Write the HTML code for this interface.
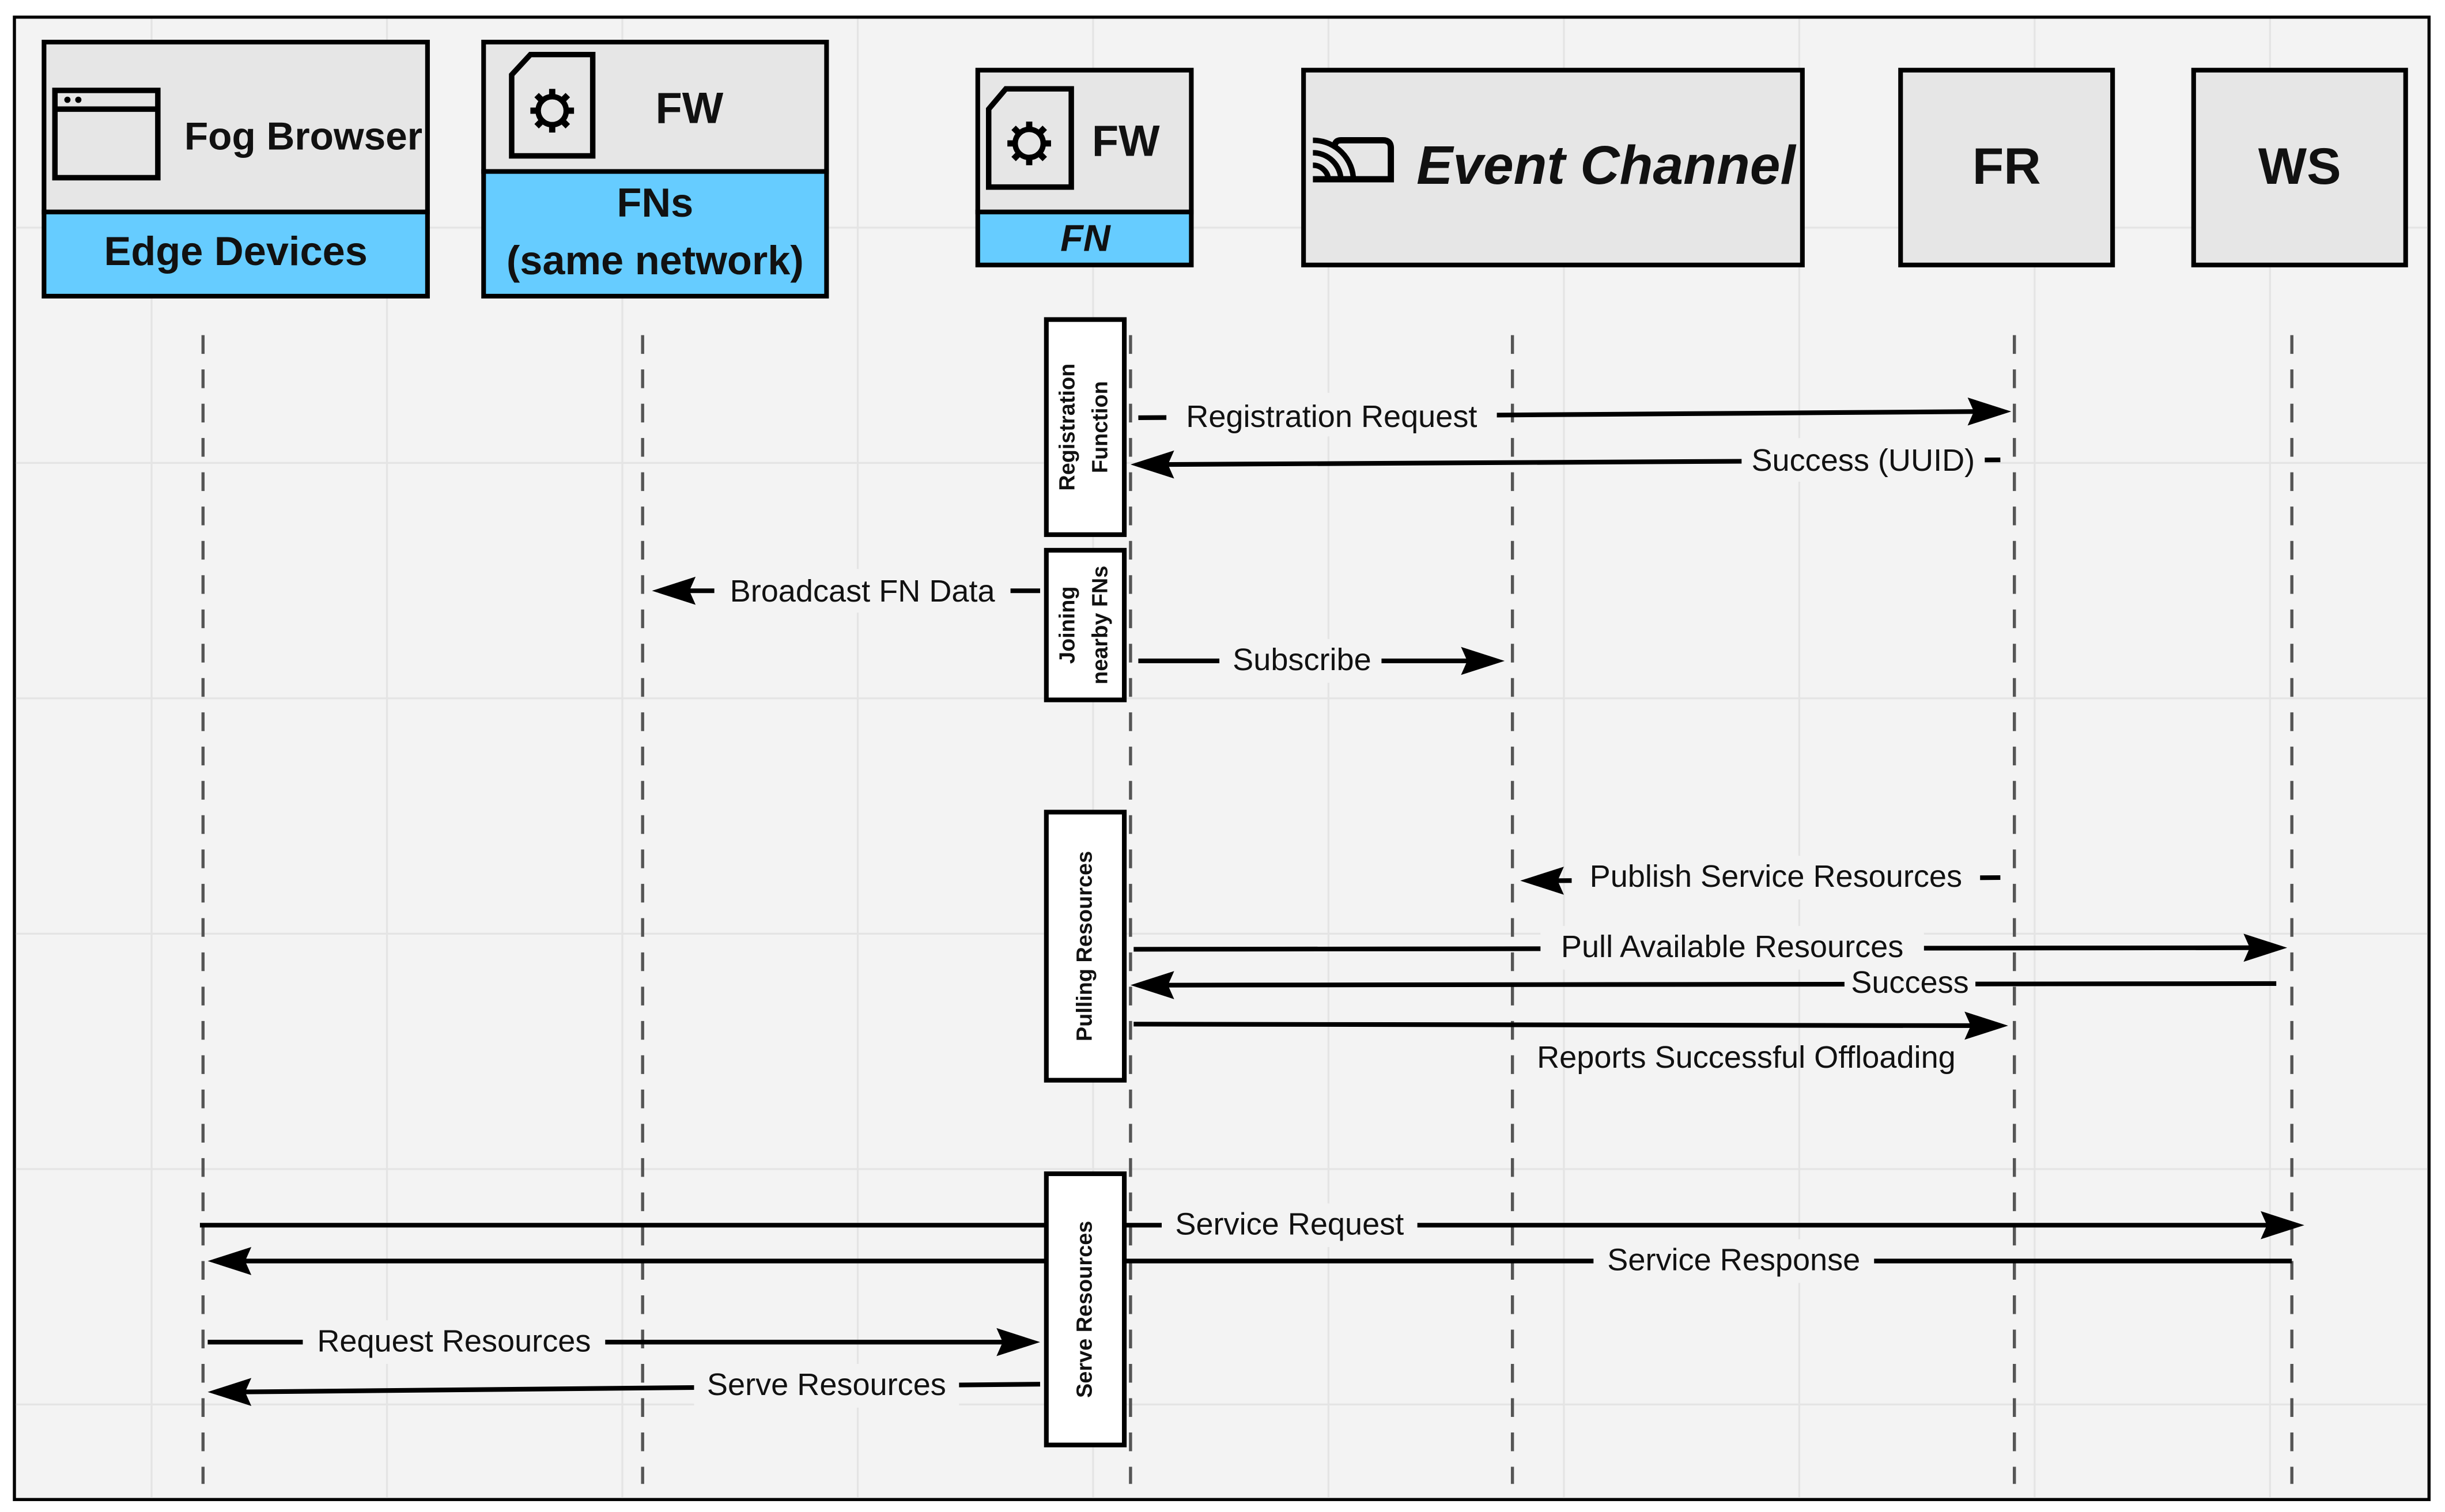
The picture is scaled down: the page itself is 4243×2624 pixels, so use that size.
<!DOCTYPE html>
<html><head><meta charset="utf-8"><style>
html,body{margin:0;padding:0;background:#fff}
svg{display:block}
text{font-family:"Liberation Sans",sans-serif}
</style></head><body>
<svg width="4243" height="2624" viewBox="0 0 1568 970" xmlns="http://www.w3.org/2000/svg">
<rect x="0" y="0" width="1568" height="970" fill="#fff"/>
<rect x="9" y="11" width="1549" height="951" fill="#f3f3f3" stroke="#000" stroke-width="2"/>
<g stroke="#e4e4e4" stroke-width="1.2">
<line x1="97" y1="12" x2="97" y2="961"/><line x1="248" y1="12" x2="248" y2="961"/><line x1="399" y1="12" x2="399" y2="961"/><line x1="550" y1="12" x2="550" y2="961"/><line x1="701" y1="12" x2="701" y2="961"/><line x1="852" y1="12" x2="852" y2="961"/><line x1="1003" y1="12" x2="1003" y2="961"/><line x1="1154" y1="12" x2="1154" y2="961"/><line x1="1305" y1="12" x2="1305" y2="961"/><line x1="1456" y1="12" x2="1456" y2="961"/>
<line x1="10" y1="146" x2="1557" y2="146"/><line x1="10" y1="297" x2="1557" y2="297"/><line x1="10" y1="448" x2="1557" y2="448"/><line x1="10" y1="599" x2="1557" y2="599"/><line x1="10" y1="750" x2="1557" y2="750"/><line x1="10" y1="901" x2="1557" y2="901"/>
</g>
<g stroke="#555" stroke-width="2" stroke-dasharray="12,10">
<line x1="130" y1="215" x2="130" y2="952"/><line x1="412" y1="215" x2="412" y2="952"/><line x1="725" y1="215" x2="725" y2="952"/><line x1="970" y1="215" x2="970" y2="952"/><line x1="1292" y1="215" x2="1292" y2="952"/><line x1="1470" y1="215" x2="1470" y2="952"/>
</g>
<g stroke="#000" stroke-width="3">
<rect x="28" y="27" width="246" height="109" fill="#e6e6e6"/><rect x="28" y="136" width="246" height="54" fill="#66ccff"/>
<rect x="310" y="27" width="220" height="83" fill="#e6e6e6"/><rect x="310" y="110" width="220" height="80" fill="#66ccff"/>
<rect x="627" y="45" width="137" height="91" fill="#e6e6e6"/><rect x="627" y="136" width="137" height="34" fill="#66ccff"/>
<rect x="836" y="45" width="320" height="125" fill="#e6e6e6"/>
<rect x="1219" y="45" width="136" height="125" fill="#e6e6e6"/>
<rect x="1407" y="45" width="136" height="125" fill="#e6e6e6"/>
</g>
<g fill="none" stroke="#000" stroke-width="3.5">
<rect x="35" y="58" width="66" height="56"/><line x1="35" y1="70" x2="101" y2="70"/>
<path d="M340 35 H380 V100 H328 V48 Z"/>
<path d="M645 57 H687 V120 H634 V70 Z"/>
<circle cx="354" cy="71" r="9"/><circle cx="660" cy="92" r="9"/>
<path d="M842 115 H892 V95 Q892 90 887 90 H860 Q856 90 856 94" stroke-width="4"/>
<path d="M842 106 A10 10 0 0 1 852 116 M842 98 A18 18 0 0 1 860 116 M842 90 A26 26 0 0 1 868 116" stroke-width="3.5"/>
</g>
<g fill="#000"><circle cx="43" cy="64" r="2"/><circle cx="50" cy="64" r="2"/></g>
<g stroke="#000" stroke-width="4">
<path d="M354 57 V61 M354 81 V85 M340 71 H344 M364 71 H368 M344 61 L347 64 M361 78 L364 81 M364 61 L361 64 M347 78 L344 81"/>
<path d="M660 78 V82 M660 102 V106 M646 92 H650 M670 92 H674 M650 82 L653 85 M667 99 L670 102 M670 82 L667 85 M653 99 L650 102"/>
</g>
<g font-weight="bold" fill="#111">
<text x="118" y="96" font-size="25">Fog Browser</text>
<text x="151" y="170" font-size="26" text-anchor="middle">Edge Devices</text>
<text x="442" y="79" font-size="28" text-anchor="middle">FW</text>
<text x="420" y="139" font-size="26" text-anchor="middle">FNs</text>
<text x="420" y="176" font-size="26" text-anchor="middle">(same network)</text>
<text x="722" y="100" font-size="28" text-anchor="middle">FW</text>
<text x="696" y="161" font-size="24" text-anchor="middle" font-style="italic">FN</text>
<text x="1030" y="118" font-size="35" text-anchor="middle" font-style="italic">Event Channel</text>
<text x="1287" y="118" font-size="33" text-anchor="middle">FR</text>
<text x="1475" y="118" font-size="33" text-anchor="middle">WS</text>
</g>
<g stroke="#000" stroke-width="3" fill="none">
<line x1="730" y1="268" x2="1270" y2="264"/>
<line x1="1283" y1="295" x2="745" y2="298"/>
<line x1="667" y1="379" x2="438" y2="379"/>
<line x1="730" y1="424" x2="945" y2="424"/>
<line x1="1283" y1="563" x2="995" y2="565"/>
<line x1="727" y1="609" x2="1447" y2="608"/>
<line x1="1460" y1="631" x2="745" y2="632"/>
<line x1="727" y1="657" x2="1268" y2="658"/>
<line x1="128" y1="786" x2="1458" y2="786"/>
<line x1="1470" y1="809" x2="153" y2="809"/>
<line x1="133" y1="861" x2="647" y2="861"/>
<line x1="667" y1="888" x2="153" y2="893"/>
</g>
<g fill="#000">
<path d="M1290 264 L1262 255 L1266 264 L1262 273 Z"/>
<path d="M725 298 L753 289 L749 298 L753 307 Z"/>
<path d="M418 379 L446 370 L442 379 L446 388 Z"/>
<path d="M965 424 L937 415 L941 424 L937 433 Z"/>
<path d="M975 565 L1003 556 L999 565 L1003 574 Z"/>
<path d="M1467 608 L1439 599 L1443 608 L1439 617 Z"/>
<path d="M725 632 L753 623 L749 632 L753 641 Z"/>
<path d="M1288 658 L1260 649 L1264 658 L1260 667 Z"/>
<path d="M1478 786 L1450 777 L1454 786 L1450 795 Z"/>
<path d="M133 809 L161 800 L157 809 L161 818 Z"/>
<path d="M667 861 L639 852 L643 861 L639 870 Z"/>
<path d="M133 893 L161 884 L157 893 L161 902 Z"/>
</g>
<g fill="#fff" stroke="#000" stroke-width="3">
<rect x="671" y="205" width="50" height="138"/><rect x="671" y="353" width="50" height="96"/><rect x="671" y="521" width="50" height="172"/><rect x="671" y="753" width="50" height="174"/>
</g>
<g font-weight="bold" font-size="14" fill="#111" text-anchor="middle">
<text transform="translate(689,274) rotate(-90)">Registration</text>
<text transform="translate(710,274) rotate(-90)">Function</text>
<text transform="translate(689,401) rotate(-90)">Joining</text>
<text transform="translate(710,401) rotate(-90)">nearby FNs</text>
<text transform="translate(700,607) rotate(-90)">Pulling Resources</text>
<text transform="translate(700,840) rotate(-90)">Serve Resources</text>
</g>
<g fill="#f3f3f3">
<rect x="748" y="252" width="212" height="28"/>
<rect x="1117" y="281" width="156" height="28"/>
<rect x="458" y="365" width="190" height="28"/>
<rect x="782" y="410" width="104" height="28"/>
<rect x="1008" y="549" width="262" height="28"/>
<rect x="988" y="594" width="246" height="28"/>
<rect x="1183" y="617" width="84" height="28"/>
<rect x="745" y="772" width="164" height="28"/>
<rect x="1022" y="795" width="180" height="28"/>
<rect x="194" y="847" width="194" height="28"/>
<rect x="445" y="875" width="170" height="28"/>
</g>
<g font-size="20" fill="#111" text-anchor="middle">
<text x="854" y="274">Registration Request</text>
<text x="1195" y="302">Success (UUID)</text>
<text x="553" y="386">Broadcast FN Data</text>
<text x="835" y="430">Subscribe</text>
<text x="1139" y="569">Publish Service Resources</text>
<text x="1111" y="614">Pull Available Resources</text>
<text x="1225" y="637">Success</text>
<text x="1120" y="685">Reports Successful Offloading</text>
<text x="827" y="792">Service Request</text>
<text x="1112" y="815">Service Response</text>
<text x="291" y="867">Request Resources</text>
<text x="530" y="895">Serve Resources</text>
</g>
</svg>
</body></html>
